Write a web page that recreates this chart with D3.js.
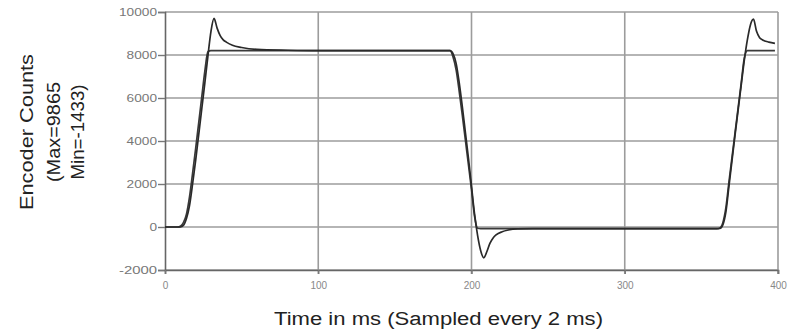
<!DOCTYPE html>
<html>
<head>
<meta charset="utf-8">
<script src="https://cdn.jsdelivr.net/npm/d3@7"></script>
<style>
  html, body { margin: 0; padding: 0; background: #fff; }
  svg { display: block; font-family: Arial, "Liberation Sans", sans-serif; }
</style>
</head>
<body>
<svg id="chart"></svg>
<script>
// commanded profile (ms, counts)
const cmdTime = [0, 8, 10, 12, 14, 16, 18, 20, 22, 24, 26, 28, 30, 186, 188, 190, 192, 194, 196, 198, 200, 202, 204, 206, 360, 362, 364, 366, 368, 370, 372, 374, 376, 378, 380, 398]
const cmdCounts = [0, 0, 30, 200, 600, 1400, 2500, 3650, 4850, 6050, 7250, 8150, 8200, 8200, 7900, 7300, 6300, 5200, 4050, 2900, 1750, 500, -60, -80, -80, -50, 200, 900, 2100, 3250, 4400, 5550, 6700, 7850, 8200, 8200]

// measured encoder position (ms, counts)
const actTime = [0, 8, 10, 12, 14, 16, 18, 20, 22, 24, 26, 28, 30, 32, 34, 36, 38, 40, 44, 50, 60, 80, 100, 186, 188, 190, 192, 194, 196, 198, 200, 202, 204, 206, 208, 210, 212, 214, 216, 220, 224, 230, 240, 360, 362, 364, 366, 368, 370, 372, 374, 376, 378, 380, 382, 384, 386, 388, 390, 394, 398]
const actCounts = [0, 0, 10, 80, 400, 1000, 2000, 3100, 4300, 5500, 6700, 7950, 9100, 9700, 9250, 8900, 8700, 8600, 8450, 8350, 8260, 8220, 8200, 8200, 8050, 7600, 6700, 5600, 4400, 3200, 1900, 600, -400, -1100, -1433, -1150, -760, -520, -370, -220, -140, -90, -80, -80, -70, 100, 700, 1900, 3100, 4300, 5450, 6600, 7750, 8700, 9400, 9665, 9100, 8800, 8700, 8600, 8540]

const xTicks = [0, 100, 200, 300, 400]
const yTicks = [-2000, 0, 2000, 4000, 6000, 8000, 10000]

const width = 791
const height = 332
const plot = { left: 165, right: 778, top: 12, bottom: 270 }

const svg = d3.select("#chart").attr("width", width).attr("height", height)

const x = d3.scaleLinear().domain([0, 400]).range([plot.left, plot.right])
const y = d3.scaleLinear().domain([-2000, 10000]).range([plot.bottom, plot.top])

// grid
const grid = svg.append("g").attr("stroke", "#9c9c9c").attr("stroke-width", 1.6)
grid.selectAll("line.h")
    .data(yTicks)
    .enter()
    .append("line")
    .attr("x1", plot.left)
    .attr("x2", plot.right)
    .attr("y1", (d) => y(d))
    .attr("y2", (d) => y(d))
grid.selectAll("line.v")
    .data(xTicks.slice(1))
    .enter()
    .append("line")
    .attr("x1", (d) => x(d))
    .attr("x2", (d) => x(d))
    .attr("y1", plot.top)
    .attr("y2", plot.bottom + 4)

// axes (plain hyphen for negatives, like the original)
const yAxis = d3.axisLeft(y).tickValues(yTicks).tickSize(7).tickFormat((d) => String(d))
const gy = svg.append("g").attr("transform", `translate(${plot.left},0)`).call(yAxis)
gy.select(".domain").attr("stroke", "#666").attr("stroke-width", 1.6)
gy.selectAll(".tick line").attr("stroke", "#777").attr("stroke-width", 1.4)
gy.selectAll(".tick text")
    .attr("fill", "#777")
    .attr("font-size", 11)
    .attr("x", -8)
    .attr("textLength", (d) => String(d).length * 7.6)
    .attr("lengthAdjust", "spacingAndGlyphs")

const xAxis = d3.axisBottom(x).tickValues(xTicks).tickSize(4).tickFormat((d) => String(d))
const gx = svg.append("g").attr("transform", `translate(0,${plot.bottom})`).call(xAxis)
gx.select(".domain").attr("stroke", "#666").attr("stroke-width", 1.6)
gx.selectAll(".tick line").attr("stroke", "#777").attr("stroke-width", 1.4)
gx.selectAll(".tick text")
    .attr("fill", "#888")
    .attr("font-size", 10)
    .attr("y", 12)

// series
const line = d3.line()
    .x((d) => x(d[0]))
    .y((d) => y(d[1]))
    .curve(d3.curveMonotoneX)

const cmdData = cmdTime.map((t, i) => [t, cmdCounts[i]])
const actData = actTime.map((t, i) => [t, actCounts[i]])

svg.append("path")
    .datum(cmdData)
    .attr("d", line)
    .attr("fill", "none")
    .attr("stroke", "#3a3a3a")
    .attr("stroke-width", 1.7)

svg.append("path")
    .datum(actData)
    .attr("d", line)
    .attr("fill", "none")
    .attr("stroke", "#2a2a2a")
    .attr("stroke-width", 1.7)

// titles
svg.append("text")
    .text("Time in ms (Sampled every 2 ms)")
    .attr("x", 274)
    .attr("y", 325)
    .attr("font-size", 18)
    .attr("fill", "#222")
    .attr("textLength", 329)
    .attr("lengthAdjust", "spacingAndGlyphs")

const yTitle = [
    { text: "Encoder Counts", base: 33, len: 156 },
    { text: "(Max=9865", base: 60, len: 100 },
    { text: "Min=-1433)", base: 84, len: 95 }
]
svg.selectAll("text.ytitle")
    .data(yTitle)
    .enter()
    .append("text")
    .text((d) => d.text)
    .attr("transform", (d) => `translate(${d.base},132) rotate(-90)`)
    .attr("text-anchor", "middle")
    .attr("font-size", 19)
    .attr("fill", "#222")
    .attr("textLength", (d) => d.len)
    .attr("lengthAdjust", "spacingAndGlyphs")
</script>
</body>
</html>
